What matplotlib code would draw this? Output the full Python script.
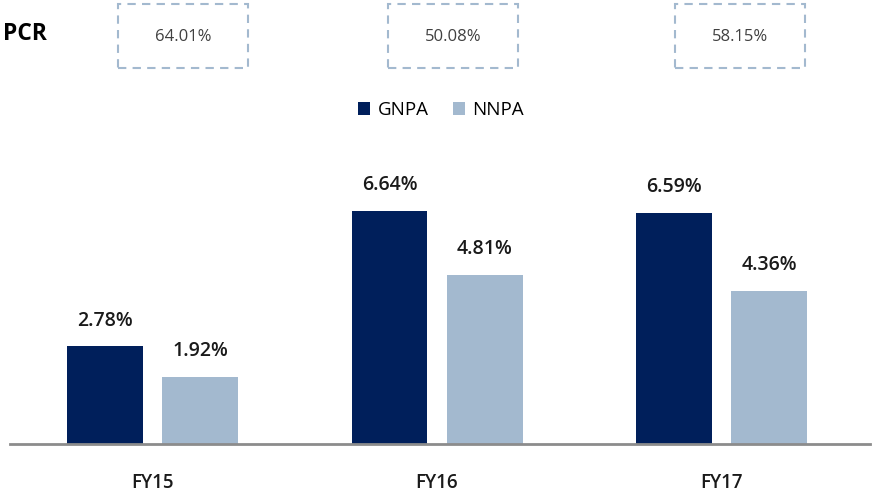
import matplotlib
matplotlib.use("Agg")
import matplotlib.pyplot as plt
from matplotlib.patches import Rectangle

plt.rcParams['font.family'] = ['Open Sans', 'DejaVu Sans']

categories = ["FY15", "FY16", "FY17"]
gnpa = [2.78, 6.64, 6.59]
nnpa = [1.92, 4.81, 4.36]
pcr = ["64.01%", "50.08%", "58.15%"]

C_G = "#001f5b"
C_N = "#a3b9cf"

fig = plt.figure(figsize=(8.8, 4.98), dpi=100)
W, H = 880, 498
ax = fig.add_axes([10 / W, (H - 444) / H, 860 / W, 344 / H])

x = list(range(len(categories)))
bw = 0.267
off = 0.167
b1 = ax.bar([i - off for i in x], gnpa, bw, color=C_G, label="GNPA")
b2 = ax.bar([i + off for i in x], nnpa, bw, color=C_N, label="NNPA")
for bars, vals in ((b1, gnpa), (b2, nnpa)):
    for r, v in zip(bars, vals):
        ax.annotate(f"{v:.2f}%", (r.get_x() + r.get_width() / 2, v),
                    xytext=(0, 18.5), textcoords="offset points",
                    ha="center", va="center", fontsize=14,
                    fontweight="semibold", color="#1a1a1a")

ax.set_xlim(-0.501, 2.522)
ax.set_ylim(0, 9.8)
for s in ("top", "right", "left"):
    ax.spines[s].set_visible(False)
ax.spines["bottom"].set_color("#8c8c8c")
ax.spines["bottom"].set_linewidth(2)
ax.set_yticks([])
ax.set_xticks(x)
ax.set_xticklabels(categories, fontsize=13.5, fontweight="semibold", color="#1a1a1a")
ax.tick_params(axis="x", length=0, pad=21)

leg = fig.legend(handles=[b1, b2], loc="center", bbox_to_anchor=(441 / W, 1 - 110 / H),
                 ncol=2, frameon=False, fontsize=13.5, handlelength=0.65, handleheight=0.65,
                 handletextpad=0.4, columnspacing=1.3)

fig.text(3 / W, 1 - 34 / H, "PCR", fontsize=16.5, fontweight="bold", va="center", ha="left")
box_x = [118, 388, 675]
for bx, t in zip(box_x, pcr):
    rect = Rectangle((bx / W, 1 - 68 / H), 130 / W, 64 / H, transform=fig.transFigure,
                     fill=False, edgecolor="#a3b9cf", linewidth=1.5, linestyle=(0, (4, 3)))
    fig.add_artist(rect)
    fig.text((bx + 65) / W, 1 - 37 / H, t, fontsize=12, color="#404040", ha="center", va="center")

fig.savefig("out.png", dpi=100)
